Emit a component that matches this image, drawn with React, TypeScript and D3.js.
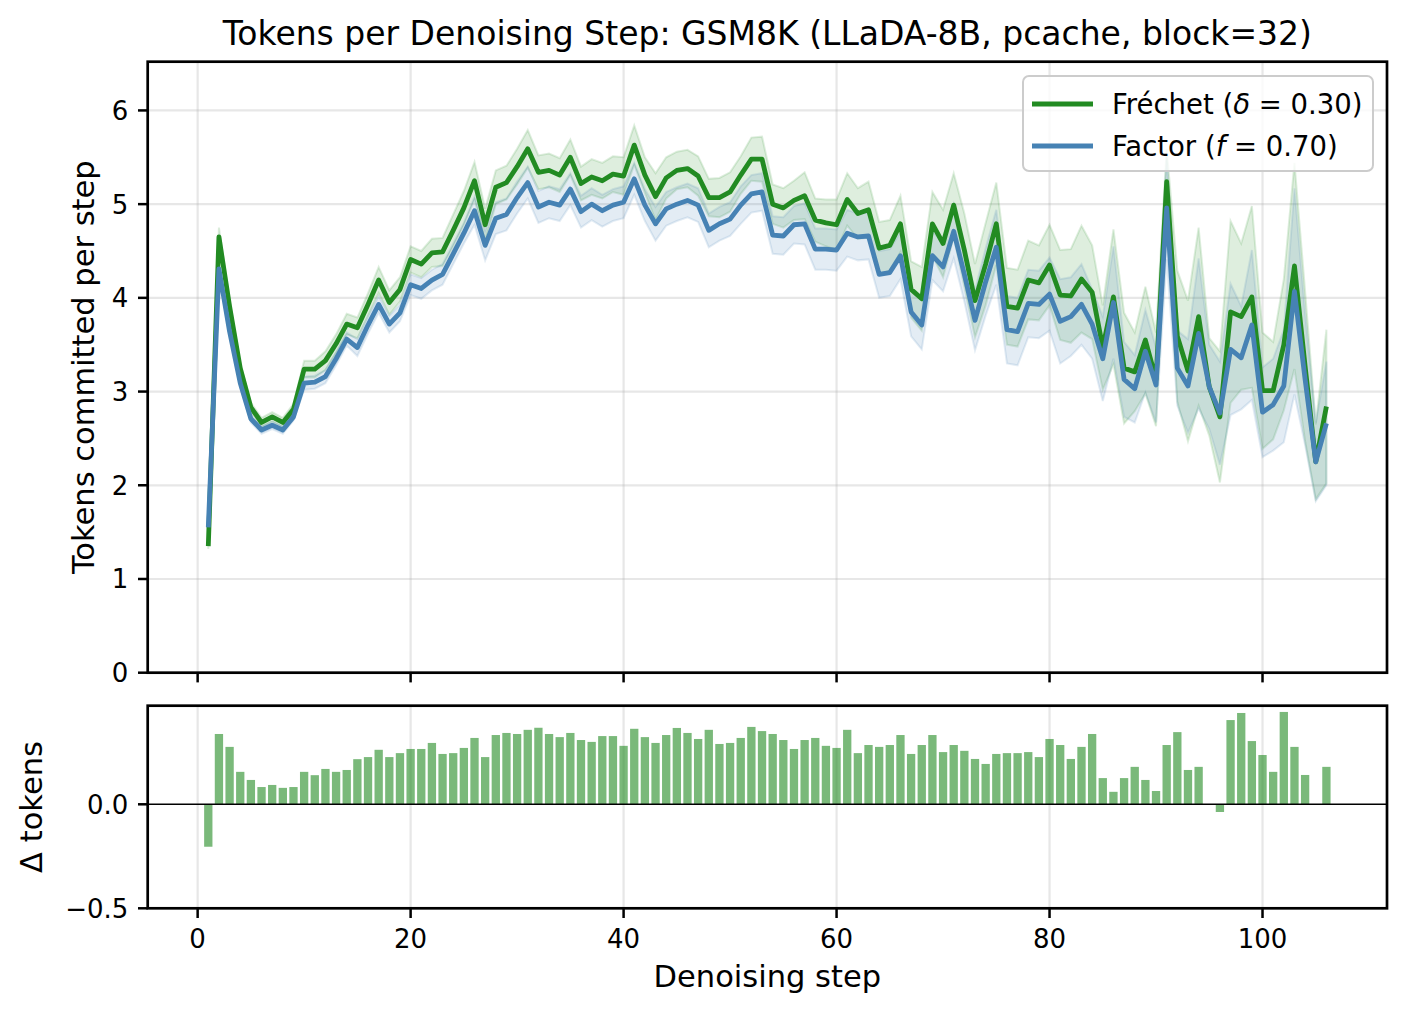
import React, { useEffect, useRef } from 'react';
import * as d3 from 'd3';

// denoising steps 1..106
const steps = d3.range(1, 107);

// mean tokens committed per step, Fréchet (δ = 0.30)
const frechetMean = [
  1.35, 4.65, 3.91, 3.25, 2.83, 2.67, 2.73, 2.67, 2.81, 3.24,
  3.24, 3.33, 3.51, 3.72, 3.68, 3.93, 4.19, 3.95, 4.09, 4.41,
  4.36, 4.48, 4.49, 4.72, 4.96, 5.25, 4.78, 5.18, 5.23, 5.40,
  5.59, 5.34, 5.36, 5.31, 5.50, 5.22, 5.29, 5.25, 5.32, 5.30,
  5.63, 5.31, 5.08, 5.28, 5.36, 5.38, 5.30, 5.07, 5.07, 5.13,
  5.31, 5.48, 5.48, 5.00, 4.96, 5.04, 5.09, 4.83, 4.80, 4.78,
  5.05, 4.90, 4.94, 4.53, 4.56, 4.79, 4.09, 3.99, 4.79, 4.58,
  4.99, 4.51, 3.97, 4.36, 4.79, 3.91, 3.89, 4.19, 4.16, 4.35,
  4.03, 4.02, 4.20, 4.06, 3.47, 4.01, 3.25, 3.21, 3.55, 3.13,
  5.24, 3.59, 3.22, 3.80, 3.05, 2.73, 3.85, 3.80, 4.01, 3.01,
  3.01, 3.50, 4.34, 3.27, 2.25, 2.84,
];

// mean tokens committed per step, Factor (f = 0.70)
const factorMean = [
  1.55, 4.31, 3.64, 3.09, 2.71, 2.59, 2.64, 2.59, 2.73, 3.09,
  3.10, 3.16, 3.35, 3.56, 3.47, 3.71, 3.93, 3.72, 3.84, 4.14,
  4.10, 4.19, 4.25, 4.47, 4.69, 4.93, 4.56, 4.85, 4.89, 5.07,
  5.23, 4.97, 5.02, 4.99, 5.16, 4.92, 5.00, 4.93, 4.99, 5.02,
  5.27, 4.99, 4.79, 4.95, 5.00, 5.04, 4.99, 4.72, 4.79, 4.84,
  4.99, 5.11, 5.13, 4.67, 4.66, 4.78, 4.79, 4.52, 4.52, 4.51,
  4.69, 4.65, 4.66, 4.25, 4.27, 4.45, 3.85, 3.71, 4.45, 4.33,
  4.71, 4.25, 3.76, 4.17, 4.54, 3.66, 3.64, 3.94, 3.93, 4.04,
  3.75, 3.80, 3.93, 3.72, 3.35, 3.95, 3.13, 3.03, 3.43, 3.07,
  4.96, 3.25, 3.06, 3.62, 3.05, 2.77, 3.45, 3.36, 3.71, 2.78,
  2.86, 3.06, 4.07, 3.13, 2.25, 2.66,
];

// spread of the shaded band around each mean
const frechetErr = [
  0.03, 0.10, 0.06, 0.05, 0.05, 0.05, 0.05, 0.05, 0.06, 0.09,
  0.09, 0.10, 0.10, 0.11, 0.11, 0.12, 0.14, 0.13, 0.13, 0.14,
  0.14, 0.15, 0.15, 0.17, 0.18, 0.20, 0.17, 0.18, 0.18, 0.19,
  0.20, 0.18, 0.18, 0.18, 0.19, 0.18, 0.19, 0.19, 0.19, 0.20,
  0.21, 0.19, 0.25, 0.22, 0.20, 0.20, 0.21, 0.20, 0.21, 0.21,
  0.20, 0.23, 0.24, 0.21, 0.21, 0.21, 0.25, 0.23, 0.25, 0.27,
  0.28, 0.27, 0.30, 0.28, 0.27, 0.30, 0.30, 0.34, 0.34, 0.36,
  0.34, 0.39, 0.39, 0.44, 0.44, 0.41, 0.41, 0.42, 0.40, 0.43,
  0.48, 0.50, 0.57, 0.50, 0.45, 0.72, 0.59, 0.42, 0.57, 0.50,
  0.35, 0.70, 0.75, 0.95, 0.52, 0.70, 0.97, 0.78, 0.97, 0.62,
  0.52, 0.70, 1.10, 0.80, 0.40, 0.82,
];

const factorErr = [
  0.03, 0.08, 0.04, 0.04, 0.04, 0.04, 0.04, 0.04, 0.04, 0.07,
  0.07, 0.07, 0.07, 0.07, 0.09, 0.09, 0.09, 0.09, 0.09, 0.11,
  0.11, 0.11, 0.11, 0.11, 0.11, 0.15, 0.16, 0.17, 0.17, 0.17,
  0.17, 0.17, 0.17, 0.17, 0.17, 0.17, 0.17, 0.17, 0.17, 0.17,
  0.17, 0.17, 0.18, 0.18, 0.18, 0.18, 0.18, 0.18, 0.18, 0.18,
  0.20, 0.20, 0.20, 0.20, 0.20, 0.20, 0.22, 0.22, 0.22, 0.22,
  0.25, 0.25, 0.25, 0.25, 0.25, 0.25, 0.26, 0.26, 0.26, 0.26,
  0.29, 0.29, 0.32, 0.36, 0.40, 0.36, 0.36, 0.36, 0.36, 0.39,
  0.45, 0.42, 0.43, 0.37, 0.45, 0.60, 0.40, 0.36, 0.44, 0.40,
  0.55, 0.40, 0.50, 0.80, 0.45, 0.55, 0.70, 0.55, 0.80, 0.48,
  0.49, 0.60, 1.10, 0.70, 0.42, 0.66,
];

// Fréchet minus Factor, per step
const delta = [
  -0.204, 0.338, 0.276, 0.156, 0.117, 0.083, 0.093, 0.079, 0.083, 0.156,
  0.140, 0.170, 0.156, 0.165, 0.217, 0.227, 0.262, 0.227, 0.246, 0.266,
  0.266, 0.295, 0.242, 0.246, 0.271, 0.319, 0.227, 0.333, 0.343, 0.338,
  0.358, 0.368, 0.338, 0.323, 0.343, 0.309, 0.300, 0.328, 0.328, 0.281,
  0.363, 0.323, 0.295, 0.333, 0.367, 0.343, 0.314, 0.358, 0.290, 0.295,
  0.319, 0.372, 0.352, 0.338, 0.309, 0.266, 0.309, 0.319, 0.281, 0.271,
  0.358, 0.246, 0.285, 0.276, 0.285, 0.333, 0.242, 0.285, 0.333, 0.251,
  0.285, 0.257, 0.218, 0.194, 0.242, 0.246, 0.246, 0.251, 0.227, 0.314,
  0.285, 0.218, 0.276, 0.338, 0.126, 0.060, 0.126, 0.180, 0.117, 0.064,
  0.285, 0.347, 0.165, 0.180, 0.000, -0.037, 0.405, 0.439, 0.304, 0.237,
  0.156, 0.444, 0.276, 0.141, 0.000, 0.180,
];

const xTicks = [0, 20, 40, 60, 80, 100];
const yTicksTop = [0, 1, 2, 3, 4, 5, 6];
const yTicksBottom = [-0.5, 0.0];

const GREEN = '#228B22';
const BLUE = '#4682B4';
const FONT = 'DejaVu Sans, sans-serif';

const App = () => {
  const ref = useRef<SVGSVGElement>(null);

  useEffect(() => {
    const svg = d3.select(ref.current);
    svg.selectAll('*').remove();

    const left = 147.7;
    const right = 1387;
    const topAx = { y0: 61.7, y1: 672.7 };
    const botAx = { y0: 705.7, y1: 908.3 };
    const tickLen = 9.7;
    const lw = 4.8;

    const x = d3.scaleLinear().domain([-4.69, 111.69]).range([left, right]);
    const y = d3.scaleLinear().domain([0, 6.52]).range([topAx.y1, topAx.y0]);
    const yd = d3.scaleLinear().domain([-0.5, 0.474]).range([botAx.y1, botAx.y0]);

    svg.append('rect').attr('width', 1408).attr('height', 1016).attr('fill', 'white');

    // grid lines
    const grid = svg.append('g').attr('stroke', '#b0b0b0').attr('stroke-opacity', 0.3).attr('stroke-width', 2.2);
    xTicks.forEach(t => {
      grid.append('line').attr('x1', x(t)).attr('x2', x(t)).attr('y1', topAx.y0).attr('y2', topAx.y1);
      grid.append('line').attr('x1', x(t)).attr('x2', x(t)).attr('y1', botAx.y0).attr('y2', botAx.y1);
    });
    yTicksTop.forEach(t => {
      grid.append('line').attr('x1', left).attr('x2', right).attr('y1', y(t)).attr('y2', y(t));
    });

    const rows = steps.map((s, i) => ({
      s,
      fm: frechetMean[i], fe: frechetErr[i],
      bm: factorMean[i], be: factorErr[i],
      d: delta[i],
    }));

    // shaded bands
    const bandF = d3.area<any>().x(d => x(d.s)).y0(d => y(d.fm - d.fe)).y1(d => y(d.fm + d.fe));
    const bandB = d3.area<any>().x(d => x(d.s)).y0(d => y(d.bm - d.be)).y1(d => y(d.bm + d.be));
    svg.append('path').datum(rows).attr('d', bandF)
      .attr('fill', GREEN).attr('fill-opacity', 0.15)
      .attr('stroke', GREEN).attr('stroke-opacity', 0.15).attr('stroke-width', 2);
    svg.append('path').datum(rows).attr('d', bandB)
      .attr('fill', BLUE).attr('fill-opacity', 0.15)
      .attr('stroke', BLUE).attr('stroke-opacity', 0.15).attr('stroke-width', 2);

    // mean lines
    const lineF = d3.line<any>().x(d => x(d.s)).y(d => y(d.fm));
    const lineB = d3.line<any>().x(d => x(d.s)).y(d => y(d.bm));
    svg.append('path').datum(rows).attr('d', lineF)
      .attr('fill', 'none').attr('stroke', GREEN).attr('stroke-width', lw).attr('stroke-linejoin', 'round');
    svg.append('path').datum(rows).attr('d', lineB)
      .attr('fill', 'none').attr('stroke', BLUE).attr('stroke-width', lw).attr('stroke-linejoin', 'round');

    // delta bars
    const barW = 0.78;
    svg.append('g').selectAll('rect').data(rows).enter().append('rect')
      .attr('x', d => x(d.s - barW / 2))
      .attr('width', x(barW) - x(0))
      .attr('y', d => yd(Math.max(0, d.d)))
      .attr('height', d => Math.abs(yd(d.d) - yd(0)))
      .attr('fill', GREEN).attr('fill-opacity', 0.6);

    svg.append('line').attr('x1', left).attr('x2', right).attr('y1', yd(0)).attr('y2', yd(0))
      .attr('stroke', 'black').attr('stroke-width', 1.4);

    // spines
    [topAx, botAx].forEach(a => {
      svg.append('rect').attr('x', left).attr('y', a.y0).attr('width', right - left).attr('height', a.y1 - a.y0)
        .attr('fill', 'none').attr('stroke', 'black').attr('stroke-width', 2.7);
    });

    // ticks and tick labels
    const ticks = svg.append('g').attr('stroke', 'black').attr('stroke-width', 2.5);
    xTicks.forEach(t => {
      ticks.append('line').attr('x1', x(t)).attr('x2', x(t)).attr('y1', topAx.y1).attr('y2', topAx.y1 + tickLen);
      ticks.append('line').attr('x1', x(t)).attr('x2', x(t)).attr('y1', botAx.y1).attr('y2', botAx.y1 + tickLen);
    });
    yTicksTop.forEach(t => {
      ticks.append('line').attr('x1', left - tickLen).attr('x2', left).attr('y1', y(t)).attr('y2', y(t));
    });
    yTicksBottom.forEach(t => {
      ticks.append('line').attr('x1', left - tickLen).attr('x2', left).attr('y1', yd(t)).attr('y2', yd(t));
    });

    const labels = svg.append('g').attr('font-family', FONT).attr('fill', 'black');
    xTicks.forEach(t => {
      labels.append('text').attr('x', x(t)).attr('y', 948).attr('text-anchor', 'middle')
        .attr('font-size', 26).text(String(t));
    });
    yTicksTop.forEach(t => {
      labels.append('text').attr('x', left - tickLen - 9.7).attr('y', y(t)).attr('dy', '0.36em')
        .attr('text-anchor', 'end').attr('font-size', 26).text(String(t));
    });
    yTicksBottom.forEach(t => {
      labels.append('text').attr('x', left - tickLen - 9.7).attr('y', yd(t)).attr('dy', '0.36em')
        .attr('text-anchor', 'end').attr('font-size', 26).text(d3.format('.1f')(t).replace('-', '\u2212'));
    });

    // axis labels and title
    labels.append('text').attr('x', (left + right) / 2).attr('y', 45).attr('text-anchor', 'middle')
      .attr('font-size', 33).text('Tokens per Denoising Step: GSM8K (LLaDA-8B, pcache, block=32)');
    labels.append('text').attr('x', (left + right) / 2).attr('y', 987).attr('text-anchor', 'middle')
      .attr('font-size', 30.5).text('Denoising step');
    labels.append('text').attr('transform', `translate(94,${(topAx.y0 + topAx.y1) / 2}) rotate(-90)`)
      .attr('text-anchor', 'middle').attr('font-size', 30.5).text('Tokens committed per step');
    labels.append('text').attr('transform', `translate(42,${(botAx.y0 + botAx.y1) / 2}) rotate(-90)`)
      .attr('text-anchor', 'middle').attr('font-size', 30.5).text('\u0394 tokens');

    // legend
    const lg = svg.append('g').attr('font-family', FONT);
    lg.append('rect').attr('x', 1023).attr('y', 76).attr('width', 350).attr('height', 95).attr('rx', 6)
      .attr('fill', 'white').attr('fill-opacity', 0.8).attr('stroke', '#cccccc').attr('stroke-width', 2);
    const entries = [
      { color: GREEN, pre: 'Fréchet (', sym: '\u03B4', post: ' = 0.30)', cy: 104 },
      { color: BLUE, pre: 'Factor (', sym: 'f', post: ' = 0.70)', cy: 146 },
    ];
    entries.forEach(e => {
      lg.append('line').attr('x1', 1032).attr('x2', 1093).attr('y1', e.cy).attr('y2', e.cy)
        .attr('stroke', e.color).attr('stroke-width', lw);
      const t = lg.append('text').attr('x', 1112).attr('y', e.cy).attr('dy', '0.36em').attr('font-size', 27.5);
      t.append('tspan').text(e.pre);
      t.append('tspan').attr('font-style', 'italic').text(e.sym);
      t.append('tspan').text(e.post);
    });
  }, []);

  return (
    <svg ref={ref} width="1408" height="1016" style={{ position: 'absolute', left: 0, top: 0 }}></svg>
  );
};

export default App;
